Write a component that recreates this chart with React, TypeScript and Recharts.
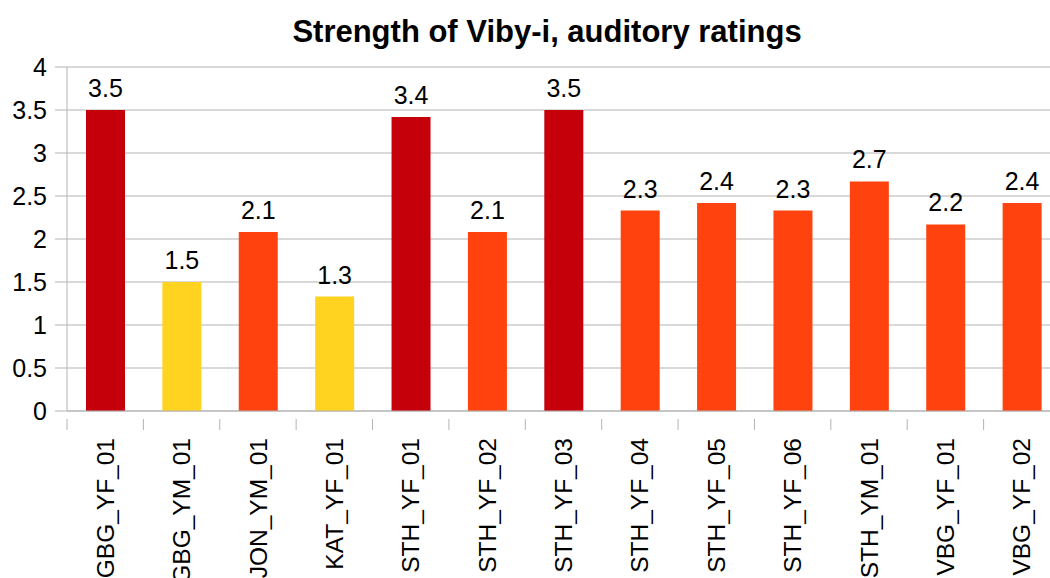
import { BarChart, Bar, XAxis, YAxis, CartesianGrid, Cell, LabelList } from 'recharts'

const categories = [
  'GBG_YF_01', 'GBG_YM_01', 'JON_YM_01', 'KAT_YF_01', 'STH_YF_01', 'STH_YF_02', 'STH_YF_03',
  'STH_YF_04', 'STH_YF_05', 'STH_YF_06', 'STH_YM_01', 'VBG_YF_01', 'VBG_YF_02',
]
const strength = [3.5, 1.5, 2.08, 1.33, 3.42, 2.08, 3.5, 2.33, 2.42, 2.33, 2.67, 2.17, 2.42]
const barColors = [
  '#c5000b', '#ffd320', '#ff420e', '#ffd320', '#c5000b', '#ff420e', '#c5000b',
  '#ff420e', '#ff420e', '#ff420e', '#ff420e', '#ff420e', '#ff420e',
]
const yTicks = [0, 0.5, 1, 1.5, 2, 2.5, 3, 3.5, 4]

const data = categories.map((name, i) => ({ name, value: strength[i] }))

const FONT = '"Liberation Sans", Arial, sans-serif'
const GRID = '#b3b3b3'
const CHART_W = 1080
const PLOT_LEFT = 67
const PLOT_RIGHT = 1060
const BAND = (PLOT_RIGHT - PLOT_LEFT) / categories.length

function CategoryTick(props: any) {
  const { x, y, payload, index } = props
  const left = x - BAND / 2
  const isLast = index === categories.length - 1
  return (
    <g>
      <line x1={left} x2={left} y1={y} y2={y + 11} stroke={GRID} />
      {isLast && <line x1={left + BAND} x2={left + BAND} y1={y} y2={y + 11} stroke={GRID} />}
      <text
        x={0}
        y={0}
        dy="0.35em"
        transform={`translate(${x},${y + 19}) rotate(-90)`}
        textAnchor="end"
        fill="#000"
        fontSize={24.5}
        fontFamily={FONT}
      >
        {payload.value}
      </text>
    </g>
  )
}

export default function App() {
  return (
    <div
      style={{
        position: 'absolute',
        left: 0,
        top: 0,
        width: 1050,
        height: 578,
        overflow: 'hidden',
        background: '#fff',
        fontFamily: FONT,
      }}
    >
      <div
        style={{
          position: 'absolute',
          left: 0,
          width: 1094,
          top: 16,
          textAlign: 'center',
          fontSize: 31,
          lineHeight: '31px',
          fontWeight: 'bold',
          color: '#000',
          whiteSpace: 'nowrap',
        }}
      >
        Strength of Viby-i, auditory ratings
      </div>
      <BarChart
        width={CHART_W}
        height={578}
        data={data}
        margin={{ top: 67, right: CHART_W - PLOT_RIGHT, left: 7, bottom: 0 }}
      >
        <CartesianGrid vertical={false} stroke={GRID} />
        <XAxis
          dataKey="name"
          height={167}
          interval={0}
          tickLine={false}
          axisLine={{ stroke: GRID }}
          tick={<CategoryTick />}
        />
        <YAxis
          width={60}
          domain={[0, 4]}
          ticks={yTicks}
          interval={0}
          tickSize={12}
          tickMargin={8}
          tickLine={{ stroke: GRID }}
          axisLine={{ stroke: GRID }}
          tick={{ fill: '#000', fontSize: 25, fontFamily: FONT }}
        />
        <Bar dataKey="value" barSize={39} isAnimationActive={false}>
          {data.map((d, i) => (
            <Cell key={d.name} fill={barColors[i]} />
          ))}
          <LabelList
            dataKey="value"
            position="top"
            offset={13}
            formatter={(v: any) => Number(v).toFixed(1)}
            fill="#000"
            fontSize={25}
            fontFamily={FONT}
          />
        </Bar>
      </BarChart>
    </div>
  )
}
